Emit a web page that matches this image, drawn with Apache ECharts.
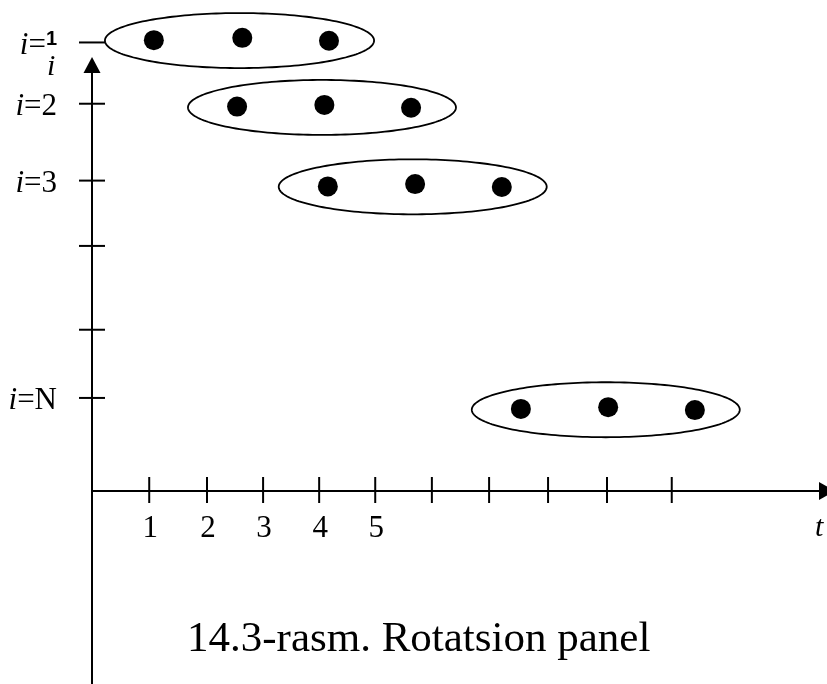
<!DOCTYPE html>
<html><head><meta charset="utf-8">
<script src="https://cdn.jsdelivr.net/npm/echarts@6/dist/echarts.min.js"></script>
<style>html,body{margin:0;padding:0;background:#fff}#c{width:827px;height:684px}</style>
</head><body><div id="c"></div>
<script>
// ---- data (t-axis units and i-axis units) ----
const rowTickValues = [7.76, 6.70, 5.37, 4.24, 2.79, 1.61];
const rowTickLabels = ['i=1', 'i=2', 'i=3', '', '', 'i=N'];
const tTickValues = [0.99, 1.99, 2.96, 3.93, 4.90, 5.88, 6.87, 7.89, 8.91, 10.03];
const tTickLabels = ['1', '2', '3', '4', '5', '', '', '', '', ''];
const group1T = [1.07, 2.60, 4.10];
const group1I = [7.80, 7.84, 7.79];
const group2T = [2.51, 4.02, 5.52];
const group2I = [6.65, 6.68, 6.63];
const group3T = [4.08, 5.59, 7.09];
const group3I = [5.27, 5.31, 5.26];
const groupNT = [7.42, 8.93, 10.43];
const groupNI = [1.42, 1.45, 1.40];
const tAxisName = 't';
const iAxisName = 'i';
const caption = '14.3-rasm. Rotatsion panel';

// ---- build series data ----
const groups = [[group1T, group1I], [group2T, group2I], [group3T, group3I], [groupNT, groupNI]];
const dotData = [];
const ellipseData = [];
groups.forEach(([ts, is]) => {
  ts.forEach((t, k) => dotData.push([t, is[k]]));
  const meanT = ts.reduce((a, b) => a + b, 0) / ts.length;
  const meanI = is.reduce((a, b) => a + b, 0) / is.length;
  ellipseData.push([meanT, meanI, Math.min(...ts), Math.max(...ts)]);
});
const tTickData = tTickValues.map((v, k) => [v, 0, tTickLabels[k]]);
const rowTickData = rowTickValues.map((v, k) => [0, v, rowTickLabels[k]]);

const SERIF = '"Liberation Serif", "Times New Roman", serif';
const chart = echarts.init(document.getElementById('c'), null, { renderer: 'canvas' });

chart.setOption({
  animation: false,
  backgroundColor: '#fff',
  grid: { left: 92, right: 0, top: 65, bottom: 0, containLabel: false },
  xAxis: {
    type: 'value', min: 0, max: 12.716,
    axisLine: { show: true, onZero: true, symbol: ['none', 'triangle'], symbolSize: [18, 16], lineStyle: { color: '#000', width: 2 } },
    axisTick: { show: false }, axisLabel: { show: false }, splitLine: { show: false }
  },
  yAxis: {
    type: 'value', min: -3.339, max: 7.370,
    axisLine: { show: true, onZero: true, symbol: ['none', 'triangle'], symbolSize: [17, 16], lineStyle: { color: '#000', width: 2 } },
    axisTick: { show: false }, axisLabel: { show: false }, splitLine: { show: false }
  },
  graphic: [
    { type: 'text', left: 47, top: 52, style: { text: iAxisName, font: 'italic 30px ' + SERIF, fill: '#000' } },
    { type: 'text', left: 815, top: 513, style: { text: tAxisName, font: 'italic 30px ' + SERIF, fill: '#000' } },
    { type: 'text', left: 187, top: 618, style: { text: caption, font: '43px ' + SERIF, fill: '#000' } }
  ],
  series: [
    {
      type: 'custom', name: 'ellipses', data: ellipseData, clip: false, silent: true,
      encode: { x: 0, y: 1 },
      renderItem: function (params, api) {
        const c = api.coord([api.value(0), api.value(1)]);
        const l = api.coord([api.value(2), api.value(1)]);
        const r = api.coord([api.value(3), api.value(1)]);
        const rx = (r[0] - l[0]) / 2 + 47;
        const ry = 27.5;
        const cx = c[0] - 2.2, cy = c[1] + 1;
        const pts = [];
        for (let k = 0; k < 180; k++) {
          const a = k / 180 * Math.PI * 2;
          pts.push([cx + rx * Math.cos(a), cy + ry * Math.sin(a)]);
        }
        return { type: 'polygon', shape: { points: pts }, style: { fill: 'none', stroke: '#000', lineWidth: 1.8 } };
      }
    },
    {
      type: 'scatter', name: 'dots', data: dotData, clip: false, symbol: 'circle', symbolSize: 20,
      itemStyle: { color: '#000', opacity: 1 }, silent: true
    },
    {
      type: 'custom', name: 'tTicks', data: tTickData, clip: false, silent: true,
      encode: { x: 0, y: 1 },
      renderItem: function (params, api) {
        const p = api.coord([api.value(0), api.value(1)]);
        const label = tTickData[params.dataIndex][2];
        return {
          type: 'group', children: [
            { type: 'line', shape: { x1: p[0], y1: p[1] - 14, x2: p[0], y2: p[1] + 12 }, style: { stroke: '#000', lineWidth: 2 } },
            { type: 'text', x: p[0] + 1, y: p[1] + 38, style: { text: label, font: '31px ' + SERIF, fill: '#000', align: 'center', verticalAlign: 'middle' } }
          ]
        };
      }
    },
    {
      type: 'custom', name: 'rowTicks', data: rowTickData, clip: false, silent: true,
      encode: { x: 0, y: 1 },
      renderItem: function (params, api) {
        const p = api.coord([api.value(0), api.value(1)]);
        const label = rowTickData[params.dataIndex][2];
        const children = [
          { type: 'line', shape: { x1: p[0] - 13, y1: p[1], x2: p[0] + 13, y2: p[1] }, style: { stroke: '#000', lineWidth: 2 } }
        ];
        if (label) {
          const rest = label.slice(2);
          const rich = {
            it: { fontStyle: 'italic', fontSize: 31, fontFamily: SERIF, fill: '#000' },
            rm: { fontSize: 31, fontFamily: SERIF, fill: '#000' },
            sup: { fontSize: 20, fontFamily: '"Liberation Sans", Arial, sans-serif', fontWeight: 'bold', fill: '#000', verticalAlign: 'top', padding: [0, 0, 8, 0] }
          };
          const text = params.dataIndex === 0
            ? '{it|i}{rm|=}{sup|' + rest + '}'
            : '{it|i}{rm|=' + rest + '}';
          children.push({ type: 'text', x: p[0] - 35, y: p[1] + 3, style: { text: text, rich: rich, align: 'right', verticalAlign: 'middle', fill: '#000' } });
        }
        return { type: 'group', children: children };
      }
    }
  ]
});
</script>
</body></html>
